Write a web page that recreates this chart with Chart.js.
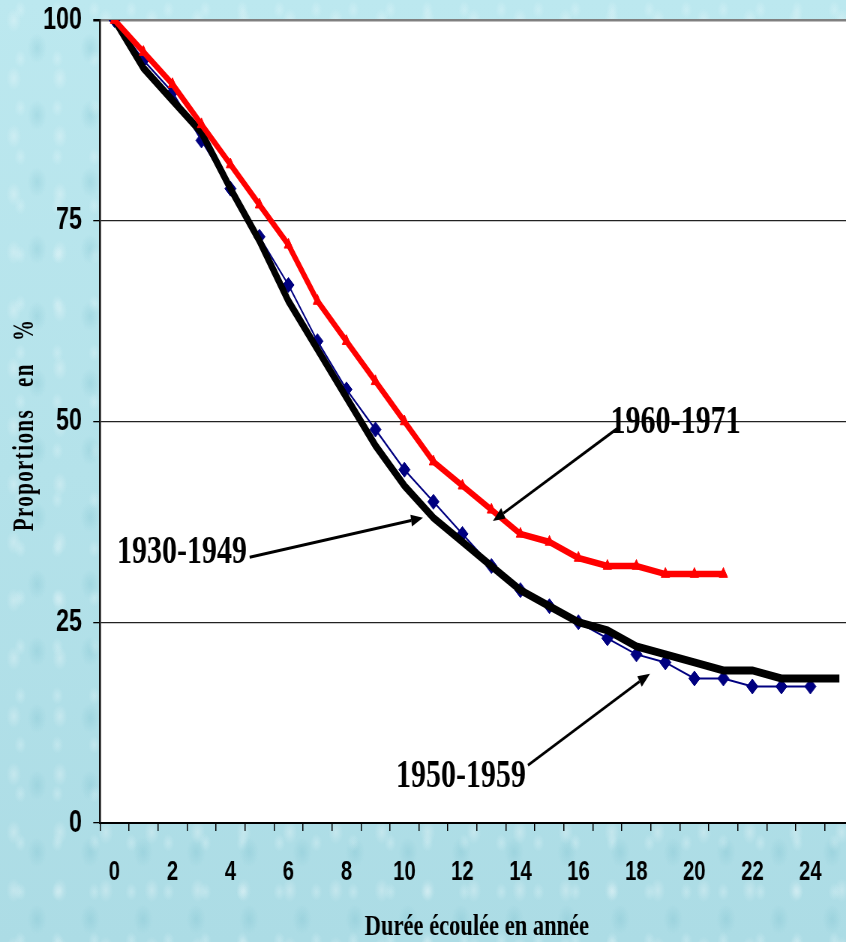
<!DOCTYPE html>
<html>
<head>
<meta charset="utf-8">
<script src="https://cdn.jsdelivr.net/npm/chart.js@4"></script>
<style>
html, body { margin: 0; padding: 0; width: 846px; height: 942px; overflow: hidden; }
body {
  background-color: #b4e2ea;
  background-image:
    radial-gradient(ellipse 10px 16px at 30% 35%, rgba(255,255,255,0.28), rgba(255,255,255,0) 75%),
    radial-gradient(ellipse 13px 20px at 70% 72%, rgba(110,185,200,0.25), rgba(110,185,200,0) 75%),
    radial-gradient(ellipse 8px 12px at 55% 20%, rgba(235,250,252,0.3), rgba(235,250,252,0) 75%),
    linear-gradient(180deg, #bce8ef, #acdce5);
  background-size: 46px 58px, 53px 67px, 37px 49px, 100% 100%;
}
#wrap { position: absolute; left: 0; top: 0; width: 1147px; height: 942px; transform: scaleX(0.75); transform-origin: 0 0; }
#c { display: block; }
</style>
</head>
<body>
<div id="wrap"><canvas id="c" width="1147" height="942" style="width:1147px;height:942px"></canvas></div>
<script>
// Categories: elapsed duration in years
const years = [0,1,2,3,4,5,6,7,8,9,10,11,12,13,14,15,16,17,18,19,20,21,22,23,24,25];
// Series values (proportions in %)
const cohort1960_1971 = [100,96,92,87,82,77,72,65,60,55,50,45,42,39,36,35,33,32,32,31,31,31];
const cohort1950_1959 = [100,95,91,85,79,73,67,60,54,49,44,40,36,32,29,27,25,23,21,20,18,18,17,17,17];
const cohort1930_1949 = [100,94,90,86,79,72.5,65,59,53,47,42,38,35,32,29,27,25,24,22,21,20,19,19,18,18,18];
// Y tick values
const yTicks = [0,25,50,75,100];
// Axis titles
const xTitle = 'Durée écoulée en année';
const yTitle = 'Proportions en %';
// Annotation labels and anchors (in data units: category index, value)
const annLabels = ['1960-1971','1930-1949','1950-1959'];
const annText   = [[19.35,48.6],[2.33,32.4],[11.95,4.5]];
const annFrom   = [[17.37,49.2],[4.66,33.1],[14.26,7.2]];
const annTo     = [[13.05,37.6],[10.64,38.0],[18.47,18.6]];

const SX = 0.75; // horizontal compression of the whole picture

const bgPlugin = {
  id: 'plotBg',
  beforeDraw(chart) {
    const {ctx, chartArea: a} = chart;
    ctx.save();
    ctx.fillStyle = '#ffffff';
    ctx.fillRect(a.left, a.top, a.right - a.left, a.bottom - a.top);
    ctx.restore();
  }
};

// Vertical axis title (rotated, drawn so that its glyphs are not squeezed by the page compression)
const yTitlePlugin = {
  id: 'yTitle',
  afterDraw(chart) {
    const {ctx, chartArea: a} = chart;
    ctx.save();
    ctx.translate(44, (a.top + a.bottom) / 2 + 3.5);
    ctx.scale(1 / SX, 1);
    ctx.rotate(-Math.PI / 2);
    ctx.scale(0.7, 1);
    ctx.font = 'bold 30px "Liberation Serif", "Times New Roman", serif';
    try { ctx.letterSpacing = '2px'; ctx.wordSpacing = '22px'; } catch (e) {}
    ctx.fillStyle = '#000';
    ctx.textAlign = 'center';
    ctx.textBaseline = 'alphabetic';
    ctx.fillText(yTitle, 0, 0);
    ctx.restore();
  }
};

const annPlugin = {
  id: 'arrows',
  afterDraw(chart) {
    const ctx = chart.ctx;
    const xs = chart.scales.x, ys = chart.scales.y;
    ctx.save();
    ctx.strokeStyle = '#000';
    ctx.fillStyle = '#000';
    ctx.lineWidth = 3;
    for (let i = 0; i < annLabels.length; i++) {
      const x1 = xs.getPixelForValue(annFrom[i][0]), y1 = ys.getPixelForValue(annFrom[i][1]);
      const x2 = xs.getPixelForValue(annTo[i][0]), y2 = ys.getPixelForValue(annTo[i][1]);
      const ang = Math.atan2(y2 - y1, x2 - x1);
      const hl = 16, hw = 6;
      const bx = x2 - hl * Math.cos(ang), by = y2 - hl * Math.sin(ang);
      ctx.beginPath();
      ctx.moveTo(x1, y1);
      ctx.lineTo(bx, by);
      ctx.stroke();
      ctx.beginPath();
      ctx.moveTo(x2, y2);
      ctx.lineTo(bx + hw * Math.sin(ang), by - hw * Math.cos(ang));
      ctx.lineTo(bx - hw * Math.sin(ang), by + hw * Math.cos(ang));
      ctx.closePath();
      ctx.fill();
    }
    ctx.font = 'bold 40px "Liberation Serif", "Times New Roman", serif';
    ctx.textAlign = 'center';
    ctx.textBaseline = 'alphabetic';
    for (let i = 0; i < annLabels.length; i++) {
      ctx.fillText(annLabels[i], xs.getPixelForValue(annText[i][0]), ys.getPixelForValue(annText[i][1]));
    }
    ctx.restore();
  }
};

new Chart(document.getElementById('c'), {
  type: 'line',
  data: {
    labels: years,
    datasets: [
      { label: '1960-1971', data: cohort1960_1971, order: 0,
        borderColor: '#ff0000', backgroundColor: '#ff0000', borderWidth: 6.5,
        pointStyle: 'triangle', pointRadius: 6.5, pointBorderWidth: 1,
        fill: false, tension: 0 },
      { label: '1930-1949', data: cohort1930_1949, order: 1,
        borderColor: '#000000', backgroundColor: '#000000', borderWidth: 8,
        pointRadius: 0, fill: false, tension: 0 },
      { label: '1950-1959', data: cohort1950_1959, order: 2,
        borderColor: '#000080', backgroundColor: '#000080', borderWidth: 2,
        pointStyle: 'rectRot', pointRadius: 7.5, pointBorderWidth: 1,
        fill: false, tension: 0 }
    ]
  },
  options: {
    responsive: false,
    maintainAspectRatio: false,
    animation: false,
    devicePixelRatio: 1,
    layout: { padding: { top: 20, right: 0, bottom: 0, left: 0 } },
    plugins: { legend: { display: false }, tooltip: { enabled: false } },
    scales: {
      x: {
        type: 'category',
        offset: true,
        afterFit(s) { s.height = 119; s.paddingLeft = 0; s.paddingRight = 0; },
        grid: { offset: true, drawOnChartArea: false, drawTicks: true, tickLength: 8, color: '#000', tickColor: '#000', lineWidth: 1.5 },
        border: { display: true, color: '#000', width: 2 },
        ticks: {
          autoSkip: false, maxRotation: 0, minRotation: 0, padding: 25, color: '#000',
          font: { family: '"Liberation Sans", Arial, sans-serif', size: 27, weight: 'bold' },
          callback(v) { const l = this.getLabelForValue(v); return (l % 2 === 0) ? String(l) : ''; }
        },
        title: {
          display: true, text: xTitle, color: '#000',
          font: { family: '"Liberation Serif", "Times New Roman", serif', size: 30, weight: 'bold', lineHeight: 1 },
          padding: { top: 0, bottom: 0 }
        }
      },
      y: {
        min: 0, max: 100,
        afterFit(s) { s.width = 133.3; s.paddingTop = 0; s.paddingBottom = 0; },
        afterBuildTicks(s) { s.ticks = yTicks.map(v => ({ value: v })); },
        grid: {
          drawTicks: true, tickLength: 9, tickColor: '#000',
          color: (c) => (c.tick && c.tick.value === 100) ? '#808080' : '#222',
          lineWidth: (c) => (c.tick && c.tick.value === 100) ? 2.5 : 1.3
        },
        border: { display: true, color: '#111', width: 2.6 },
        ticks: {
          padding: 15, color: '#000',
          font: { family: '"Liberation Sans", Arial, sans-serif', size: 31, weight: 'bold' }
        },
        title: { display: false }
      }
    }
  },
  plugins: [bgPlugin, yTitlePlugin, annPlugin]
});
</script>
</body>
</html>
